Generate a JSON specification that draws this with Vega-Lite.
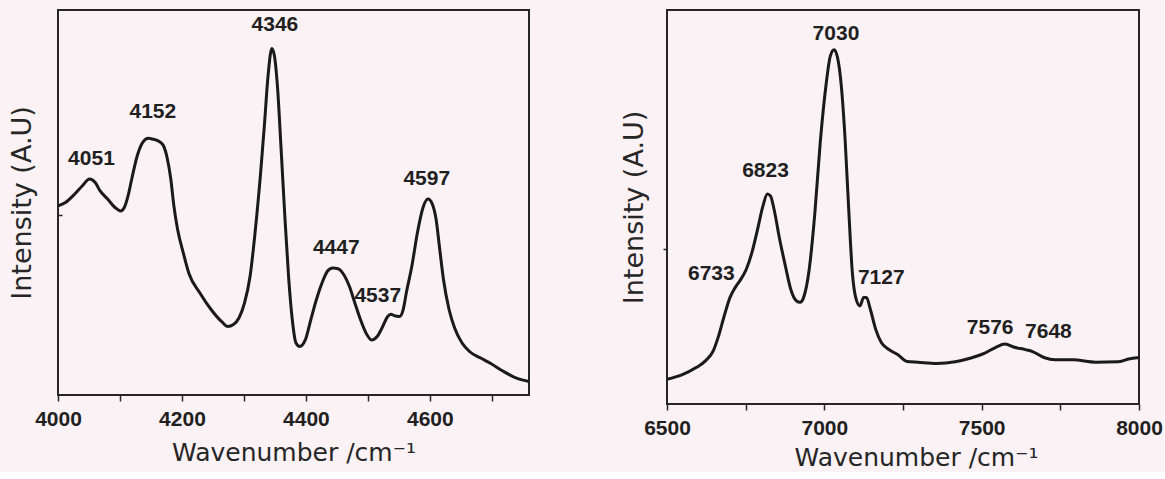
{
  "$schema": "https://vega.github.io/schema/vega-lite/v6.json",
  "background": "#fbf2f5",
  "padding": {"left": 7, "top": 9, "right": 0, "bottom": 0},
  "spacing": 138,
  "bounds": "flush",
  "config": {
    "view": {"stroke": "#262626", "strokeWidth": 2},
    "axis": {
      "domain": false, "grid": false,
      "labelFont": "Liberation Sans", "labelFontWeight": "bold", "labelFontSize": 21, "labelColor": "#1f1f1f",
      "labelFlush": false, "labelOverlap": false, "labelPadding": 7,
      "tickColor": "#262626", "tickWidth": 1.5, "tickSize": 6,
      "titleFont": "DejaVu Sans", "titleFontWeight": "normal", "titleFontSize": 25, "titleColor": "#262626"
    }
  },
  "datasets": {
    "left": [
      {"wavenumber": 4000, "intensity": 49.1}, {"wavenumber": 4012, "intensity": 50.0}, {"wavenumber": 4027, "intensity": 52.2},
      {"wavenumber": 4039, "intensity": 54.3}, {"wavenumber": 4051, "intensity": 56.1}, {"wavenumber": 4060, "intensity": 55.2},
      {"wavenumber": 4068, "intensity": 53.0}, {"wavenumber": 4080, "intensity": 50.9}, {"wavenumber": 4092, "intensity": 48.7},
      {"wavenumber": 4101, "intensity": 47.8}, {"wavenumber": 4107, "intensity": 48.7}, {"wavenumber": 4113, "intensity": 51.7},
      {"wavenumber": 4119, "intensity": 56.1}, {"wavenumber": 4128, "intensity": 62.2}, {"wavenumber": 4137, "intensity": 65.7},
      {"wavenumber": 4146, "intensity": 66.7}, {"wavenumber": 4152, "intensity": 66.5}, {"wavenumber": 4164, "intensity": 65.8},
      {"wavenumber": 4170, "intensity": 64.8}, {"wavenumber": 4176, "intensity": 61.7}, {"wavenumber": 4182, "intensity": 56.1},
      {"wavenumber": 4187, "intensity": 49.1}, {"wavenumber": 4193, "intensity": 43.0}, {"wavenumber": 4202, "intensity": 37.0},
      {"wavenumber": 4211, "intensity": 31.7}, {"wavenumber": 4229, "intensity": 26.5}, {"wavenumber": 4247, "intensity": 22.2},
      {"wavenumber": 4265, "intensity": 18.9}, {"wavenumber": 4274, "intensity": 17.8}, {"wavenumber": 4283, "intensity": 18.3},
      {"wavenumber": 4292, "intensity": 20.0}, {"wavenumber": 4301, "intensity": 23.9}, {"wavenumber": 4310, "intensity": 30.9},
      {"wavenumber": 4318, "intensity": 42.2}, {"wavenumber": 4327, "intensity": 57.8}, {"wavenumber": 4333, "intensity": 70.0},
      {"wavenumber": 4339, "intensity": 83.0}, {"wavenumber": 4345, "intensity": 90.0}, {"wavenumber": 4349, "intensity": 88.3},
      {"wavenumber": 4354, "intensity": 80.4}, {"wavenumber": 4360, "intensity": 63.9}, {"wavenumber": 4366, "intensity": 46.5},
      {"wavenumber": 4372, "intensity": 30.9}, {"wavenumber": 4378, "intensity": 19.6}, {"wavenumber": 4384, "intensity": 13.5},
      {"wavenumber": 4390, "intensity": 12.6}, {"wavenumber": 4399, "intensity": 14.3}, {"wavenumber": 4408, "intensity": 19.6},
      {"wavenumber": 4417, "intensity": 24.8}, {"wavenumber": 4426, "intensity": 29.1}, {"wavenumber": 4435, "intensity": 32.2},
      {"wavenumber": 4443, "intensity": 33.0}, {"wavenumber": 4452, "intensity": 32.8}, {"wavenumber": 4461, "intensity": 31.3},
      {"wavenumber": 4470, "intensity": 28.3}, {"wavenumber": 4479, "intensity": 23.9}, {"wavenumber": 4488, "intensity": 19.6},
      {"wavenumber": 4497, "intensity": 16.1}, {"wavenumber": 4506, "intensity": 14.3}, {"wavenumber": 4515, "intensity": 15.2},
      {"wavenumber": 4524, "intensity": 17.8}, {"wavenumber": 4532, "intensity": 20.4}, {"wavenumber": 4537, "intensity": 21.0},
      {"wavenumber": 4543, "intensity": 20.6}, {"wavenumber": 4551, "intensity": 20.4}, {"wavenumber": 4557, "intensity": 22.2},
      {"wavenumber": 4562, "intensity": 26.5}, {"wavenumber": 4571, "intensity": 33.5}, {"wavenumber": 4580, "intensity": 42.2},
      {"wavenumber": 4589, "intensity": 48.7}, {"wavenumber": 4597, "intensity": 50.9}, {"wavenumber": 4604, "intensity": 49.6},
      {"wavenumber": 4610, "intensity": 45.7}, {"wavenumber": 4616, "intensity": 37.8}, {"wavenumber": 4622, "intensity": 30.0},
      {"wavenumber": 4631, "intensity": 22.2}, {"wavenumber": 4640, "intensity": 17.4}, {"wavenumber": 4652, "intensity": 13.5},
      {"wavenumber": 4664, "intensity": 11.3}, {"wavenumber": 4682, "intensity": 9.6}, {"wavenumber": 4699, "intensity": 8.1},
      {"wavenumber": 4717, "intensity": 6.3}, {"wavenumber": 4741, "intensity": 4.3}, {"wavenumber": 4760, "intensity": 3.5}
    ],
    "right": [
      {"wavenumber": 6500, "intensity": 6.3}, {"wavenumber": 6547, "intensity": 7.4}, {"wavenumber": 6594, "intensity": 9.3},
      {"wavenumber": 6623, "intensity": 11.0}, {"wavenumber": 6647, "intensity": 13.5}, {"wavenumber": 6664, "intensity": 17.3},
      {"wavenumber": 6682, "intensity": 22.4}, {"wavenumber": 6700, "intensity": 27.0}, {"wavenumber": 6717, "intensity": 29.6},
      {"wavenumber": 6735, "intensity": 31.7}, {"wavenumber": 6752, "intensity": 34.2}, {"wavenumber": 6770, "intensity": 38.5},
      {"wavenumber": 6788, "intensity": 44.4}, {"wavenumber": 6805, "intensity": 50.3}, {"wavenumber": 6819, "intensity": 53.3},
      {"wavenumber": 6829, "intensity": 52.8}, {"wavenumber": 6840, "intensity": 49.5}, {"wavenumber": 6858, "intensity": 41.8},
      {"wavenumber": 6876, "intensity": 35.1}, {"wavenumber": 6893, "intensity": 29.2}, {"wavenumber": 6911, "intensity": 26.2},
      {"wavenumber": 6923, "intensity": 25.8}, {"wavenumber": 6934, "intensity": 27.0}, {"wavenumber": 6952, "intensity": 34.2},
      {"wavenumber": 6970, "intensity": 48.6}, {"wavenumber": 6987, "intensity": 66.4}, {"wavenumber": 7005, "intensity": 80.7},
      {"wavenumber": 7019, "intensity": 88.3}, {"wavenumber": 7031, "intensity": 89.9}, {"wavenumber": 7042, "intensity": 87.9},
      {"wavenumber": 7054, "intensity": 80.7}, {"wavenumber": 7066, "intensity": 67.2}, {"wavenumber": 7078, "intensity": 48.6},
      {"wavenumber": 7089, "intensity": 33.4}, {"wavenumber": 7101, "intensity": 26.6}, {"wavenumber": 7113, "intensity": 24.9},
      {"wavenumber": 7125, "intensity": 27.0}, {"wavenumber": 7134, "intensity": 27.0}, {"wavenumber": 7146, "intensity": 24.1},
      {"wavenumber": 7163, "intensity": 19.0}, {"wavenumber": 7181, "intensity": 15.6}, {"wavenumber": 7204, "intensity": 13.9},
      {"wavenumber": 7234, "intensity": 12.5}, {"wavenumber": 7263, "intensity": 10.8}, {"wavenumber": 7298, "intensity": 10.6},
      {"wavenumber": 7357, "intensity": 10.3}, {"wavenumber": 7416, "intensity": 10.7}, {"wavenumber": 7463, "intensity": 11.6},
      {"wavenumber": 7510, "intensity": 12.9}, {"wavenumber": 7545, "intensity": 14.4}, {"wavenumber": 7574, "intensity": 15.2},
      {"wavenumber": 7604, "intensity": 14.4}, {"wavenumber": 7639, "intensity": 13.8}, {"wavenumber": 7662, "intensity": 13.3},
      {"wavenumber": 7698, "intensity": 11.8}, {"wavenumber": 7733, "intensity": 11.2}, {"wavenumber": 7791, "intensity": 11.2},
      {"wavenumber": 7862, "intensity": 10.6}, {"wavenumber": 7932, "intensity": 10.7}, {"wavenumber": 7967, "intensity": 11.4},
      {"wavenumber": 8000, "intensity": 11.8}
    ],
    "leftLabels": [
      {"wavenumber": 4054, "intensity": 61.3, "label": "4051"},
      {"wavenumber": 4153, "intensity": 73.5, "label": "4152"},
      {"wavenumber": 4350, "intensity": 96.0, "label": "4346"},
      {"wavenumber": 4449, "intensity": 38.3, "label": "4447"},
      {"wavenumber": 4516, "intensity": 25.7, "label": "4537"},
      {"wavenumber": 4595, "intensity": 56.1, "label": "4597"}
    ],
    "rightLabels": [
      {"wavenumber": 6641, "intensity": 33.0, "label": "6733"},
      {"wavenumber": 6813, "intensity": 59.2, "label": "6823"},
      {"wavenumber": 7037, "intensity": 93.8, "label": "7030"},
      {"wavenumber": 7181, "intensity": 31.9, "label": "7127"},
      {"wavenumber": 7527, "intensity": 19.4, "label": "7576"},
      {"wavenumber": 7712, "intensity": 18.2, "label": "7648"}
    ]
  },
  "hconcat": [
    {
      "width": 471, "height": 385,
      "layer": [
        {
          "data": {"name": "left"},
          "mark": {"type": "line", "color": "#1a1a1a", "strokeWidth": 3, "interpolate": "monotone"},
          "encoding": {
            "x": {"field": "wavenumber", "type": "quantitative",
                  "scale": {"domain": [4000, 4760], "nice": false, "zero": false},
                  "axis": {"title": "Wavenumber /cm⁻¹", "format": "d", "values": [4000, 4100, 4200, 4300, 4400, 4500, 4600, 4700],
                           "labelExpr": "datum.value % 200 == 0 ? datum.label : ''", "titlePadding": 11}},
            "y": {"field": "intensity", "type": "quantitative",
                  "scale": {"domain": [0, 100], "nice": false, "zero": false},
                  "axis": {"title": "Intensity (A.U)", "titleFontSize": 27, "labels": false, "values": [46.75], "tickSize": -4, "titlePadding": 21}}
          }
        },
        {
          "data": {"name": "leftLabels"},
          "mark": {"type": "text", "font": "Liberation Sans", "fontWeight": "bold", "fontSize": 21, "color": "#1f1f1f", "baseline": "middle", "align": "center"},
          "encoding": {
            "x": {"field": "wavenumber", "type": "quantitative"},
            "y": {"field": "intensity", "type": "quantitative"},
            "text": {"field": "label"}
          }
        }
      ]
    },
    {
      "width": 472, "height": 394,
      "layer": [
        {
          "data": {"name": "right"},
          "mark": {"type": "line", "color": "#1a1a1a", "strokeWidth": 3, "interpolate": "monotone"},
          "encoding": {
            "x": {"field": "wavenumber", "type": "quantitative",
                  "scale": {"domain": [6500, 8000], "nice": false, "zero": false},
                  "axis": {"title": "Wavenumber /cm⁻¹", "format": "d", "values": [6500, 6750, 7000, 7250, 7500, 7750, 8000],
                           "labelExpr": "datum.value % 500 == 0 ? datum.label : ''", "titlePadding": 7.5, "titleX": 249}},
            "y": {"field": "intensity", "type": "quantitative",
                  "scale": {"domain": [0, 100], "nice": false, "zero": false},
                  "axis": {"title": "Intensity (A.U)", "titleFontSize": 27, "labels": false, "values": [39.3], "tickSize": 4, "titlePadding": 14}}
          }
        },
        {
          "data": {"name": "rightLabels"},
          "mark": {"type": "text", "font": "Liberation Sans", "fontWeight": "bold", "fontSize": 21, "color": "#1f1f1f", "baseline": "middle", "align": "center"},
          "encoding": {
            "x": {"field": "wavenumber", "type": "quantitative"},
            "y": {"field": "intensity", "type": "quantitative"},
            "text": {"field": "label"}
          }
        }
      ]
    }
  ]
}
